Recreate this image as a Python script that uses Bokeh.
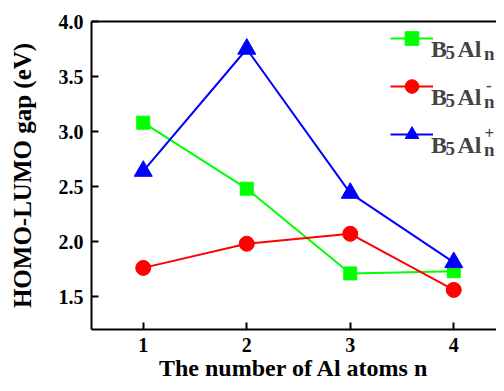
from bokeh.plotting import figure
from bokeh.models import (Range1d, FixedTicker, LinearAxis, Legend, LegendItem,
                          Label, PrintfTickFormatter)
from bokeh.embed import file_html
from bokeh.resources import INLINE

# ---- data ----
n_atoms = [1, 2, 3, 4]
gap_neutral = [3.08, 2.48, 1.71, 1.73]   # B5Al_n
gap_anion = [1.76, 1.98, 2.07, 1.56]     # B5Al_n^-
gap_cation = [2.64, 3.75, 2.44, 1.81]    # B5Al_n^+
x_ticks = [1, 2, 3, 4]
y_ticks = [1.5, 2.0, 2.5, 3.0, 3.5, 4.0]
x_label = "The number of Al atoms n"
y_label = "HOMO-LUMO gap (eV)"
legend_base = ["B", "5", "Al", "n"]
legend_sup = ["", "-", "+"]

FONT = "Liberation Serif"

p = figure(width=496, height=383, output_backend="svg", toolbar_location=None,
           x_range=Range1d(0.5, 4.413), y_range=Range1d(1.2, 4.0),
           min_border_left=91, min_border_right=0, min_border_top=21,
           min_border_bottom=53, x_axis_label=x_label, y_axis_label=y_label)
p.outline_line_color = None
p.grid.visible = False
p.background_fill_color = "white"

for ax in (p.xaxis[0], p.yaxis[0]):
    ax.axis_line_width = 2
    ax.major_tick_line_width = 2
    ax.major_tick_in = 7
    ax.major_tick_out = 0
    ax.minor_tick_line_color = None
    ax.major_label_text_font = FONT
    ax.major_label_text_font_style = "bold"
    ax.major_label_text_font_size = "20px"
    ax.axis_label_text_font = FONT
    ax.axis_label_text_font_style = "bold"
    ax.axis_label_text_color = "black"
    ax.major_label_text_color = "black"

p.xaxis[0].ticker = FixedTicker(ticks=x_ticks)
p.yaxis[0].ticker = FixedTicker(ticks=y_ticks)
p.yaxis[0].formatter = PrintfTickFormatter(format="%.1f")
p.xaxis[0].axis_label_text_font_size = "24px"
p.yaxis[0].axis_label_text_font_size = "25px"
p.xaxis[0].major_label_standoff = 8
p.xaxis[0].axis_label_standoff = 0
p.yaxis[0].major_label_standoff = 8
p.yaxis[0].axis_label_standoff = 20

top_axis = LinearAxis(ticker=FixedTicker(ticks=[]), axis_line_width=2,
                      major_tick_in=0, major_tick_out=0,
                      minor_tick_line_color=None)
p.add_layout(top_axis, "above")

# ---- series ----
l1 = p.line(n_atoms, gap_neutral, line_color="#00ff00", line_width=2)
s1 = p.scatter(n_atoms, gap_neutral, marker="square", size=13,
               fill_color="#00ff00", line_color="#00ff00")
l2 = p.line(n_atoms, gap_anion, line_color="#ff0000", line_width=2)
s2 = p.scatter(n_atoms, gap_anion, marker="circle", size=15,
               fill_color="#ff0000", line_color="#ff0000")
l3 = p.line(n_atoms, gap_cation, line_color="#0000ff", line_width=2)
s3 = p.scatter(n_atoms, gap_cation, marker="triangle", size=18,
               fill_color="#0000ff", line_color="#0000ff")

legend = Legend(items=[LegendItem(label=" ", renderers=[l1, s1]),
                       LegendItem(label=" ", renderers=[l2, s2]),
                       LegendItem(label=" ", renderers=[l3, s3])],
                location="top_right", margin=0, padding=15, spacing=14,
                glyph_width=43, glyph_height=34, label_height=34,
                label_width=58, label_standoff=5,
                border_line_color=None, background_fill_alpha=0)
p.add_layout(legend)

# legend text with sub/superscripts (screen units relative to frame)
row_base = [281, 233, 185]
parts = [(0, 339.5, 0, "24px"), (1, 354, -4, "19px"), (2, 366, 0, "24px"),
         (3, 392.5, -5, "19px")]
for r, yb in enumerate(row_base):
    for idx, xx, dy, fs in parts:
        p.add_layout(Label(x=xx, y=yb + dy, x_units="screen", y_units="screen",
                           text=legend_base[idx], text_font=FONT,
                           text_font_style="bold", text_font_size=fs,
                           text_baseline="alphabetic", text_align="left"))
    if legend_sup[r]:
        p.add_layout(Label(x=394.5 if legend_sup[r] == "-" else 393, y=yb + 11,
                           x_units="screen", y_units="screen",
                           text=legend_sup[r], text_font=FONT,
                           text_font_style="bold", text_font_size="17px",
                           text_baseline="alphabetic", text_align="left"))

open("out.html", "w").write(file_html(p, INLINE))
